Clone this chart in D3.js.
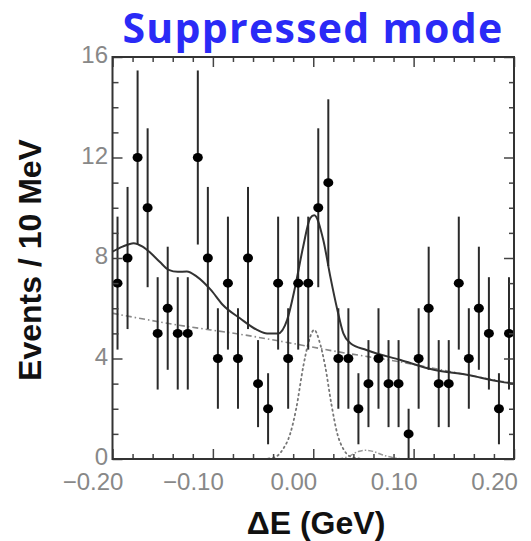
<!DOCTYPE html>
<html>
<head>
<meta charset="utf-8">
<script src="https://cdn.jsdelivr.net/npm/d3@7/dist/d3.min.js"></script>
<style>
  html, body { margin: 0; padding: 0; background: #fff; }
  svg { display: block; }
</style>
</head>
<body>
<svg id="chart" width="531" height="541"></svg>
<script>
// ΔE distribution, suppressed mode: counts per 10 MeV bin
const binCenters = [
  -0.195, -0.185, -0.175, -0.165, -0.155, -0.145, -0.135, -0.125, -0.115, -0.105,
  -0.095, -0.085, -0.075, -0.065, -0.055, -0.045, -0.035, -0.025, -0.015, -0.005,
   0.005,  0.015,  0.025,  0.035,  0.045,  0.055,  0.065,  0.075,  0.085,  0.095,
   0.105,  0.115,  0.125,  0.135,  0.145,  0.155,  0.165,  0.175,  0.185,  0.195
];
const counts = [
  7, 8, 12, 10, 5, 6, 5, 5, 12, 8,
  4, 7, 4, 8, 3, 2, 7, 4, 7, 7,
  10, 11, 4, 4, 2, 3, 4, 3, 3, 1,
  4, 6, 3, 3, 7, 4, 6, 5, 2, 5
];

// Fit curves sampled along ΔE: [ΔE, events]
const totalFit = [
  [-0.200, 8.25], [-0.190, 8.45], [-0.179, 8.59], [-0.170, 8.45], [-0.162, 8.2],
  [-0.153, 7.85], [-0.144, 7.53], [-0.135, 7.45], [-0.126, 7.46], [-0.116, 7.26],
  [-0.102, 6.73], [-0.090, 6.13], [-0.073, 5.6], [-0.056, 5.14], [-0.046, 5.0],
  [-0.035, 5.0], [-0.026, 5.54], [-0.018, 6.86], [-0.010, 8.46], [-0.003, 9.59],
  [0.001, 9.7], [0.010, 8.72], [0.017, 7.26], [0.024, 5.94], [0.030, 5.0],
  [0.037, 4.61], [0.053, 4.34], [0.087, 3.94], [0.120, 3.55], [0.153, 3.35],
  [0.186, 3.08], [0.200, 3.0]
];
const backgroundFit = [
  [-0.200, 5.8], [-0.136, 5.34], [-0.069, 4.94], [-0.003, 4.47], [0.020, 4.3],
  [0.087, 3.86], [0.153, 3.35], [0.200, 3.0]
];
const signalFit = [
  [-0.050, 0.0], [-0.040, 0.05], [-0.035, 0.15], [-0.030, 0.4], [-0.023, 1.0],
  [-0.017, 2.0], [-0.010, 3.67], [-0.005, 4.6], [0.001, 5.14], [0.006, 4.7],
  [0.012, 3.67], [0.018, 2.2], [0.024, 1.0], [0.030, 0.4], [0.036, 0.12],
  [0.045, 0.02], [0.050, 0.0]
];
const peakingFit = [
  [0.025, 0.0], [0.035, 0.1], [0.045, 0.3], [0.052, 0.35], [0.060, 0.3],
  [0.070, 0.15], [0.080, 0.05], [0.090, 0.0]
];

// Axis ticks
const xMajorTicks = [-0.2, -0.1, 0.0, 0.1, 0.2];
const xMinorTicks = [-0.18, -0.16, -0.14, -0.12, -0.08, -0.06, -0.04, -0.02,
                      0.02, 0.04, 0.06, 0.08, 0.12, 0.14, 0.16, 0.18];
const yMajorTicks = [0, 4, 8, 12, 16];
const yMinorTicks = [1, 2, 3, 5, 6, 7, 9, 10, 11, 13, 14, 15];

const svg = d3.select("#chart");
const plotLeft = 112.5, plotRight = 514, plotTop = 57, plotBottom = 459;

const x = d3.scaleLinear().domain([-0.2, 0.2]).range([plotLeft, plotRight]);
const y = d3.scaleLinear().domain([0, 16]).range([plotBottom, plotTop]);

// Title
svg.append("text")
  .attr("x", 313).attr("y", 43)
  .attr("text-anchor", "middle")
  .attr("font-family", "'Open Sans', sans-serif")
  .attr("font-weight", 700)
  .attr("font-size", 41)
  .attr("letter-spacing", 1.3)
  .attr("fill", "#2a2af6")
  .text("Suppressed mode");

// Axis titles
svg.append("text")
  .attr("transform", "translate(41,260) rotate(-90)")
  .attr("text-anchor", "middle")
  .attr("font-family", "'Liberation Sans', Arial, sans-serif")
  .attr("font-weight", 700)
  .attr("font-size", 32)
  .attr("fill", "#111")
  .text("Events / 10 MeV");

svg.append("text")
  .attr("x", 316).attr("y", 534)
  .attr("text-anchor", "middle")
  .attr("font-family", "'Liberation Sans', Arial, sans-serif")
  .attr("font-weight", 700)
  .attr("font-size", 32)
  .attr("fill", "#111")
  .text("ΔE (GeV)");

// Curves
const line = d3.line()
  .x(d => x(d[0]))
  .y(d => y(d[1]))
  .curve(d3.curveMonotoneX);

svg.append("path").datum(backgroundFit)
  .attr("d", line).attr("fill", "none")
  .attr("stroke", "#888").attr("stroke-width", 1.6)
  .attr("stroke-dasharray", "6,3,1.5,3");

svg.append("path").datum(peakingFit)
  .attr("d", line).attr("fill", "none")
  .attr("stroke", "#999").attr("stroke-width", 1.5)
  .attr("stroke-dasharray", "5,2,1.5,2");

svg.append("path").datum(signalFit)
  .attr("d", line).attr("fill", "none")
  .attr("stroke", "#777").attr("stroke-width", 1.8)
  .attr("stroke-dasharray", "1.5,3.5")
  .attr("stroke-linecap", "round");

svg.append("path").datum(totalFit)
  .attr("d", line).attr("fill", "none")
  .attr("stroke", "#333").attr("stroke-width", 2);

// Data points with sqrt(N) error bars
const pts = svg.append("g");
pts.selectAll("line")
  .data(binCenters.map((c, i) => ({ c, n: counts[i] })))
  .join("line")
  .attr("x1", d => x(d.c)).attr("x2", d => x(d.c))
  .attr("y1", d => y(d.n + Math.sqrt(d.n)))
  .attr("y2", d => y(Math.max(0, d.n - Math.sqrt(d.n))))
  .attr("stroke", "#2a2a2a").attr("stroke-width", 2);

pts.selectAll("ellipse")
  .data(binCenters.map((c, i) => ({ c, n: counts[i] })))
  .join("ellipse")
  .attr("cx", d => x(d.c)).attr("cy", d => y(d.n))
  .attr("rx", 5).attr("ry", 4.5)
  .attr("fill", "#000");

// Frame and inward ticks
const tickColor = "#444";
function styleAxis(g) {
  g.select(".domain").remove();
  g.selectAll(".tick line").attr("stroke", tickColor).attr("stroke-width", 1.5);
}
const noLabel = () => "";

svg.append("g").attr("transform", `translate(0,${plotBottom})`)
  .call(d3.axisBottom(x).tickValues(xMinorTicks).tickSize(-5).tickFormat(noLabel))
  .call(styleAxis);
svg.append("g").attr("transform", `translate(0,${plotTop})`)
  .call(d3.axisTop(x).tickValues(xMinorTicks).tickSize(-5).tickFormat(noLabel))
  .call(styleAxis);
svg.append("g").attr("transform", `translate(0,${plotTop})`)
  .call(d3.axisTop(x).tickValues(xMajorTicks).tickSize(-10).tickFormat(noLabel))
  .call(styleAxis);
svg.append("g").attr("transform", `translate(${plotRight},0)`)
  .call(d3.axisRight(y).tickValues(yMinorTicks).tickSize(-5).tickFormat(noLabel))
  .call(styleAxis);
svg.append("g").attr("transform", `translate(${plotRight},0)`)
  .call(d3.axisRight(y).tickValues(yMajorTicks).tickSize(-10).tickFormat(noLabel))
  .call(styleAxis);
svg.append("g").attr("transform", `translate(${plotLeft},0)`)
  .call(d3.axisLeft(y).tickValues(yMinorTicks).tickSize(-6).tickFormat(noLabel))
  .call(styleAxis);

const labelFont = "'Liberation Sans', Arial, sans-serif";
const xAxis = svg.append("g").attr("transform", `translate(0,${plotBottom})`)
  .call(d3.axisBottom(x).tickValues(xMajorTicks).tickSize(-10).tickPadding(14)
    .tickFormat(d3.format(".2f")))
  .call(styleAxis);
xAxis.selectAll("text")
  .attr("dx", -20)
  .attr("font-family", labelFont).attr("font-size", 24).attr("fill", "#888");

const yAxis = svg.append("g").attr("transform", `translate(${plotLeft},0)`)
  .call(d3.axisLeft(y).tickValues(yMajorTicks).tickSize(-10).tickPadding(4.5)
    .tickFormat(d3.format("d")))
  .call(styleAxis);
yAxis.selectAll("text")
  .attr("y", -2)
  .attr("font-family", labelFont).attr("font-size", 24).attr("fill", "#888");

svg.append("rect")
  .attr("x", plotLeft).attr("y", plotTop)
  .attr("width", plotRight - plotLeft).attr("height", plotBottom - plotTop)
  .attr("fill", "none").attr("stroke", "#333").attr("stroke-width", 2);
</script>
</body>
</html>
